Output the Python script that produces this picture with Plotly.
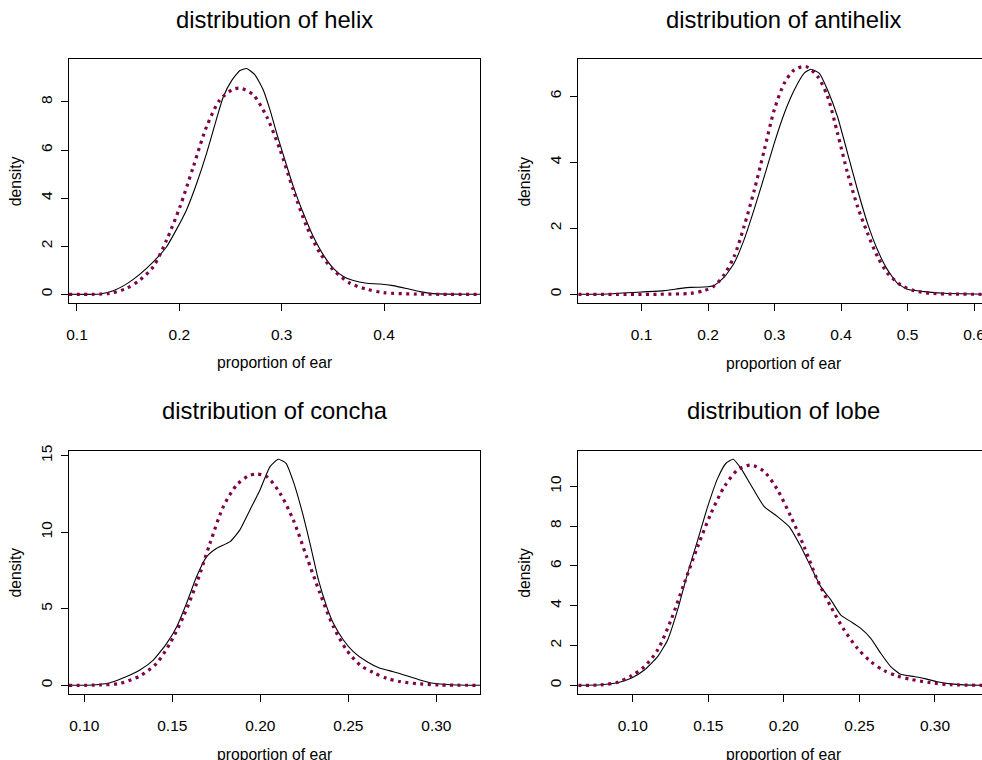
import plotly.graph_objects as go

# ---------------- data ----------------
panel_titles = ["distribution of helix", "distribution of antihelix",
                "distribution of concha", "distribution of lobe"]
x_label = "proportion of ear"
y_label = "density"

helix_kde_x = [0.0922, 0.1225, 0.1355, 0.1453, 0.155, 0.168, 0.181, 0.1876, 0.197, 0.207,
               0.217, 0.2267, 0.2365, 0.243, 0.2511, 0.2593, 0.2658, 0.2739, 0.282, 0.2886,
               0.2951, 0.3016, 0.3114, 0.3212, 0.3309, 0.3407, 0.3505, 0.3603, 0.37, 0.383,
               0.396, 0.409, 0.422, 0.435, 0.448, 0.494]
helix_kde_y = [0.0, 0.01, 0.15, 0.35, 0.62, 1.08, 1.64, 1.98, 2.68, 3.51,
               4.62, 5.87, 7.32, 8.22, 8.89, 9.31, 9.39, 9.13, 8.5, 7.67,
               6.70, 5.80, 4.48, 3.37, 2.40, 1.64, 1.08, 0.74, 0.57, 0.46,
               0.43, 0.36, 0.24, 0.11, 0.03, 0.0]
helix_norm_x = [0.0922, 0.132, 0.1485, 0.1616, 0.1746, 0.1876, 0.2007, 0.2137, 0.2267, 0.2397,
                0.2528, 0.26, 0.2723, 0.2853, 0.2984, 0.3114, 0.3244, 0.3375, 0.3505, 0.3668,
                0.383, 0.3993, 0.4319, 0.494]
helix_norm_y = [0.0, 0.04, 0.25, 0.6, 1.15, 2.26, 3.65, 5.31, 6.98, 8.09,
                8.53, 8.57, 8.29, 7.39, 6.01, 4.34, 2.82, 1.71, 1.01, 0.46,
                0.21, 0.07, 0.01, 0.0]

antihelix_kde_x = [0.0048, 0.049, 0.099, 0.134, 0.159, 0.174, 0.194, 0.209, 0.2243, 0.239,
                   0.254, 0.269, 0.2845, 0.2995, 0.3145, 0.3296, 0.3446, 0.3546, 0.367, 0.3797,
                   0.3947, 0.4098, 0.4248, 0.4398, 0.4549, 0.4699, 0.485, 0.5, 0.525, 0.555, 0.62]
antihelix_kde_y = [0.0, 0.01, 0.07, 0.11, 0.18, 0.21, 0.22, 0.27, 0.52, 0.94,
                   1.65, 2.56, 3.57, 4.58, 5.48, 6.19, 6.70, 6.82, 6.70, 6.19,
                   5.38, 4.27, 3.16, 2.15, 1.34, 0.74, 0.33, 0.15, 0.08, 0.03, 0.0]
antihelix_norm_x = [0.0048, 0.124, 0.174, 0.194, 0.209, 0.224, 0.239, 0.254, 0.2695, 0.2845,
                    0.2995, 0.3145, 0.3296, 0.347, 0.3647, 0.3797, 0.3947, 0.4098, 0.4248, 0.4398,
                    0.4549, 0.4699, 0.49, 0.51, 0.535, 0.62]
antihelix_norm_y = [0.0, 0.0, 0.03, 0.11, 0.25, 0.59, 1.14, 2.05, 3.16, 4.37,
                    5.59, 6.39, 6.80, 6.90, 6.60, 5.99, 4.88, 3.67, 2.66, 1.85,
                    1.14, 0.64, 0.28, 0.11, 0.03, 0.0]

concha_kde_x = [0.0913, 0.105, 0.1146, 0.124, 0.1316, 0.1392, 0.1468, 0.1525, 0.1581, 0.1638,
                0.1695, 0.1752, 0.1828, 0.1884, 0.1941, 0.1998, 0.2055, 0.2102, 0.2146, 0.2191,
                0.2235, 0.2282, 0.233, 0.2377, 0.2415, 0.2472, 0.2528, 0.2604, 0.268, 0.2756,
                0.2831, 0.2907, 0.2983, 0.3078, 0.3248]
concha_kde_y = [0.0, 0.02, 0.17, 0.57, 1.0, 1.65, 2.74, 3.83, 5.36, 7.10,
                8.40, 8.95, 9.38, 10.15, 11.45, 12.76, 14.28, 14.76, 14.50, 13.19,
                11.45, 9.27, 6.88, 5.14, 4.05, 2.96, 2.20, 1.55, 1.11, 0.89,
                0.63, 0.35, 0.13, 0.04, 0.0]
concha_norm_x = [0.0913, 0.109, 0.1203, 0.1316, 0.1411, 0.1487, 0.1563, 0.1638, 0.1714, 0.179,
                 0.1866, 0.1932, 0.1979, 0.2036, 0.2112, 0.2187, 0.2263, 0.2339, 0.2415, 0.249,
                 0.2566, 0.2642, 0.2718, 0.2794, 0.2907, 0.302, 0.3248]
concha_norm_y = [0.0, 0.02, 0.13, 0.61, 1.44, 2.74, 4.49, 6.66, 9.27, 11.67,
                 13.09, 13.67, 13.80, 13.63, 12.54, 10.80, 8.40, 6.01, 3.83, 2.31,
                 1.33, 0.83, 0.46, 0.24, 0.09, 0.02, 0.0]

lobe_kde_x = [0.064, 0.079, 0.09, 0.0989, 0.1077, 0.1165, 0.1231, 0.1297, 0.1363, 0.143,
              0.1496, 0.1562, 0.1617, 0.1665, 0.1716, 0.1782, 0.187, 0.1958, 0.2035, 0.2112,
              0.2178, 0.2244, 0.2311, 0.2377, 0.2443, 0.2509, 0.2575, 0.2641, 0.2707, 0.2773,
              0.2861, 0.2927, 0.3015, 0.3104, 0.3192, 0.335]
lobe_kde_y = [0.0, 0.03, 0.13, 0.35, 0.77, 1.44, 2.28, 3.79, 5.63, 7.30,
              8.98, 10.40, 11.16, 11.36, 10.90, 10.07, 8.98, 8.48, 7.97, 6.97,
              5.96, 4.96, 4.29, 3.53, 3.20, 2.86, 2.36, 1.61, 0.94, 0.55,
              0.44, 0.35, 0.18, 0.07, 0.02, 0.0]
lobe_norm_x = [0.064, 0.079, 0.09, 0.0989, 0.1077, 0.1165, 0.1253, 0.1341, 0.143, 0.1518,
               0.1606, 0.1694, 0.1782, 0.187, 0.1958, 0.2046, 0.2134, 0.2222, 0.2311, 0.2399,
               0.2487, 0.2575, 0.2663, 0.2751, 0.2839, 0.2971, 0.3104, 0.335]
lobe_norm_y = [0.0, 0.02, 0.15, 0.47, 0.94, 1.78, 3.28, 5.13, 6.97, 8.64,
               9.98, 10.82, 11.07, 10.74, 9.82, 8.48, 6.97, 5.29, 3.95, 2.78,
               1.86, 1.19, 0.74, 0.47, 0.30, 0.13, 0.03, 0.0]

helix_xticks = [0.1, 0.2, 0.3, 0.4]
helix_xticklabels = ["0.1", "0.2", "0.3", "0.4"]
helix_yticks = [0, 2, 4, 6, 8]
antihelix_xticks = [0.1, 0.2, 0.3, 0.4, 0.5, 0.6]
antihelix_xticklabels = ["0.1", "0.2", "0.3", "0.4", "0.5", "0.6"]
antihelix_yticks = [0, 2, 4, 6]
concha_xticks = [0.10, 0.15, 0.20, 0.25, 0.30]
concha_xticklabels = ["0.10", "0.15", "0.20", "0.25", "0.30"]
concha_yticks = [0, 5, 10, 15]
lobe_xticks = [0.10, 0.15, 0.20, 0.25, 0.30]
lobe_xticklabels = ["0.10", "0.15", "0.20", "0.25", "0.30"]
lobe_yticks = [0, 2, 4, 6, 8, 10]

# ---------------- layout ----------------
W, H = 982, 760
FONT = "Liberation Sans, Arial, Helvetica, sans-serif"
KDE_COLOR = "black"
NORM_COLOR = "#800048"

panels = [
    dict(title=panel_titles[0], kx=helix_kde_x, ky=helix_kde_y, nx=helix_norm_x, ny=helix_norm_y,
         xt=helix_xticks, xtl=helix_xticklabels, yt=helix_yticks,
         xr=[0.0922, 0.4938], yr=[-0.362, 9.775], box=(69, 480, 59.3, 303.0), right=True),
    dict(title=panel_titles[1], kx=antihelix_kde_x, ky=antihelix_kde_y, nx=antihelix_norm_x, ny=antihelix_norm_y,
         xt=antihelix_xticks, xtl=antihelix_xticklabels, yt=antihelix_yticks,
         xr=[0.0047, 0.612], yr=[-0.273, 7.12], box=(578.3, 982, 59.3, 303.3), right=False),
    dict(title=panel_titles[2], kx=concha_kde_x, ky=concha_kde_y, nx=concha_norm_x, ny=concha_norm_y,
         xt=concha_xticks, xtl=concha_xticklabels, yt=concha_yticks,
         xr=[0.0913, 0.3248], yr=[-0.588, 15.32], box=(69, 480, 450.7, 694.3), right=True),
    dict(title=panel_titles[3], kx=lobe_kde_x, ky=lobe_kde_y, nx=lobe_norm_x, ny=lobe_norm_y,
         xt=lobe_xticks, xtl=lobe_xticklabels, yt=lobe_yticks,
         xr=[0.064, 0.3311], yr=[-0.452, 11.79], box=(578.3, 982, 450.7, 694.3), right=False),
]

fig = go.Figure()
annotations = []
for i, p in enumerate(panels, start=1):
    xa = "x" if i == 1 else f"x{i}"
    ya = "y" if i == 1 else f"y{i}"
    fig.add_trace(go.Scatter(x=p["kx"], y=p["ky"], mode="lines", xaxis=xa, yaxis=ya,
                             line=dict(color=KDE_COLOR, width=1.1, shape="spline", smoothing=0.5),
                             showlegend=False, hoverinfo="skip"))
    fig.add_trace(go.Scatter(x=p["nx"], y=p["ny"], mode="lines", xaxis=xa, yaxis=ya,
                             line=dict(color=NORM_COLOR, width=3.2, dash="3px,4.5px",
                                       shape="spline", smoothing=0.8),
                             showlegend=False, hoverinfo="skip"))
    x0, x1, y0, y1 = p["box"]
    xdom = [x0 / W, x1 / W]
    ydom = [1 - y1 / H, 1 - y0 / H]
    common = dict(showline=True, linecolor="black", linewidth=1, ticks="outside", ticklen=7,
                  tickwidth=1, tickcolor="black", showgrid=False, zeroline=False,
                  automargin=False,
                  tickfont=dict(family=FONT, size=15.5, color="black"), fixedrange=True)
    fig.update_layout(**{
        ("xaxis" if i == 1 else f"xaxis{i}"): dict(
            domain=xdom, range=p["xr"], anchor=ya, tickmode="array", tickvals=p["xt"],
            ticktext=p["xtl"], mirror=True, ticklabeloverflow="allow",
            ticklabelstandoff=10, **common),
        ("yaxis" if i == 1 else f"yaxis{i}"): dict(
            domain=ydom, range=p["yr"], anchor=xa, tickmode="array", tickvals=p["yt"],
            ticktext=[str(v) for v in p["yt"]], tickangle=-90, mirror=p["right"],
            ticklabelstandoff=3, **common),
    })
    cx = (x0 + (x1 if p["right"] else x0 + 411)) / 2
    annotations.append(dict(text=p["title"], x=cx / W, y=1 - (y0 - 39.9) / H, xref="paper", yref="paper",
                            xanchor="center", yanchor="middle", showarrow=False,
                            font=dict(family=FONT, size=23.8, color="black")))
    annotations.append(dict(text=x_label, x=cx / W, y=1 - (y1 + 59.8) / H, xref="paper", yref="paper",
                            xanchor="center", yanchor="middle", showarrow=False,
                            font=dict(family=FONT, size=15.7, color="black")))
    annotations.append(dict(text=y_label, x=(x0 - 54) / W, y=1 - ((y0 + y1) / 2) / H, xref="paper",
                            yref="paper", xanchor="center", yanchor="middle", showarrow=False,
                            textangle=-90, font=dict(family=FONT, size=15.7, color="black")))

fig.update_layout(width=W, height=H, margin=dict(l=0, r=0, t=0, b=0, autoexpand=False),
                  paper_bgcolor="white", plot_bgcolor="white", annotations=annotations,
                  font=dict(family=FONT, color="black"))

fig.write_html("out.html", config={"displayModeBar": False},
               post_script="document.body.style.margin='0';document.body.style.overflow='hidden';")
